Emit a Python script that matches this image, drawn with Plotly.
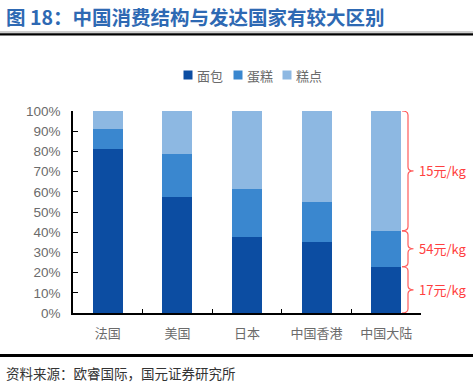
import plotly.graph_objects as go

# ---- data ----
categories = ["法国", "美国", "日本", "中国香港", "中国大陆"]
bread = [0.812, 0.573, 0.376, 0.351, 0.229]      # 面包
cake = [0.099, 0.213, 0.238, 0.199, 0.178]       # 蛋糕
pastry = [0.089, 0.214, 0.386, 0.450, 0.593]     # 糕点
series_names = ["面包", "蛋糕", "糕点"]
price_labels = ["17元/kg", "54元/kg", "15元/kg"]  # bread, cake, pastry (中国大陆)
title_text = "图 18：中国消费结构与发达国家有较大区别"
source_text = "资料来源：欧睿国际，国元证券研究所"

# ---- layout geometry ----
W, H = 473, 386
ML, MR, MT, MB = 73, 52, 111, 73
PW, PH = W - ML - MR, H - MT - MB


def px_x(px):
    return (px - ML) / PW


def px_y(py):
    return (H - MB - py) / PH


colors = ["#0C4DA2", "#3A87CF", "#8DB8E2"]
cjk = "Noto Sans CJK SC"

fig = go.Figure()
for name, vals, c in zip(series_names, [bread, cake, pastry], colors):
    fig.add_trace(go.Bar(
        x=categories, y=vals, name=name, marker=dict(color=c, line=dict(width=0)),
        showlegend=False,
    ))

fig.update_layout(
    width=W, height=H,
    barmode="stack", bargap=0.57,
    margin=dict(l=ML, r=MR, t=MT, b=MB),
    paper_bgcolor="white", plot_bgcolor="white",
    font=dict(family=cjk, size=12, color="#595959"),
    title=dict(text=title_text, x=6 / W, xref="container", xanchor="left",
               y=1 - 18 / H, yref="container", yanchor="middle",
               font=dict(family=cjk, size=19.5, color="#2E69B3", weight="bold")),
    showlegend=False,
)

fig.update_yaxes(range=[0, 1], tickformat=".0%", dtick=0.1, showgrid=False,
                 showline=True, linecolor="black", linewidth=1.5,
                 ticks="inside", ticklen=5, tickcolor="black", tickwidth=1.2,
                 ticklabelstandoff=8,
                 tickfont=dict(family="Liberation Sans", size=13.5, color="#6b6b6b"),
                 zeroline=False)
fig.update_xaxes(showline=True, linecolor="black", linewidth=1.5,
                 ticks="inside", tickson="boundaries", ticklen=4, tickcolor="black",
                 tickwidth=1.2, ticklabelstandoff=8,
                 tickfont=dict(family=cjk, size=13, color="#6b6b6b"))

# custom compact legend
leg_sq = [188, 238, 287]
for name, c, sx in zip(series_names, colors, leg_sq):
    fig.add_shape(type="rect", xref="paper", yref="paper",
                  x0=px_x(sx - 4.5), x1=px_x(sx + 4.5), y0=px_y(79.5), y1=px_y(70.5),
                  fillcolor=c, line=dict(width=0))
    fig.add_annotation(text=name, xref="paper", yref="paper", x=px_x(sx + 7), y=px_y(75),
                       xanchor="left", yanchor="middle", showarrow=False,
                       font=dict(family=cjk, size=13, color="#6b6b6b"))

# separator lines
fig.add_shape(type="line", xref="paper", yref="paper", x0=px_x(0), x1=px_x(W),
              y0=px_y(32), y1=px_y(32), line=dict(color="#9a9a9a", width=1))
fig.add_shape(type="line", xref="paper", yref="paper", x0=px_x(0), x1=px_x(W),
              y0=px_y(34.3), y1=px_y(34.3), line=dict(color="black", width=2.2))
fig.add_shape(type="line", xref="paper", yref="paper", x0=px_x(0), x1=px_x(W),
              y0=px_y(355.5), y1=px_y(355.5), line=dict(color="black", width=3))

# source
fig.add_annotation(text=source_text, xref="paper", yref="paper", x=px_x(4), y=px_y(373),
                   xanchor="left", yanchor="middle", showarrow=False,
                   font=dict(family=cjk, size=13.5, color="#333333"))

# braces on the right (segments of 中国大陆)
last = len(categories) - 1
b0 = 0.0
b1 = bread[last]
b2 = bread[last] + cake[last]
b3 = b2 + pastry[last]
segments = [(b1, b0), (b2, b1), (b3, b2)]
x0, xm, xp = px_x(402), px_x(408), px_x(413.5)
r = 4 / PH
for (ya, yb), lab in zip(segments, price_labels):
    ym = (ya + yb) / 2
    path = (f"M {x0},{ya} Q {xm},{ya} {xm},{ya - r} L {xm},{ym + r} "
            f"Q {xm},{ym} {xp},{ym} Q {xm},{ym} {xm},{ym - r} "
            f"L {xm},{yb + r} Q {xm},{yb} {x0},{yb}")
    fig.add_shape(type="path", path=path, xref="paper", yref="y",
                  line=dict(color="#FF5A5A", width=1.2))
    fig.add_annotation(text=lab, xref="paper", yref="y", x=px_x(417), y=ym,
                       xanchor="left", yanchor="middle", showarrow=False,
                       font=dict(family=cjk, size=13, color="#FF4040"))

fig.write_html("out.html", config={"displayModeBar": False},
               post_script="document.body.style.margin='0px';")
